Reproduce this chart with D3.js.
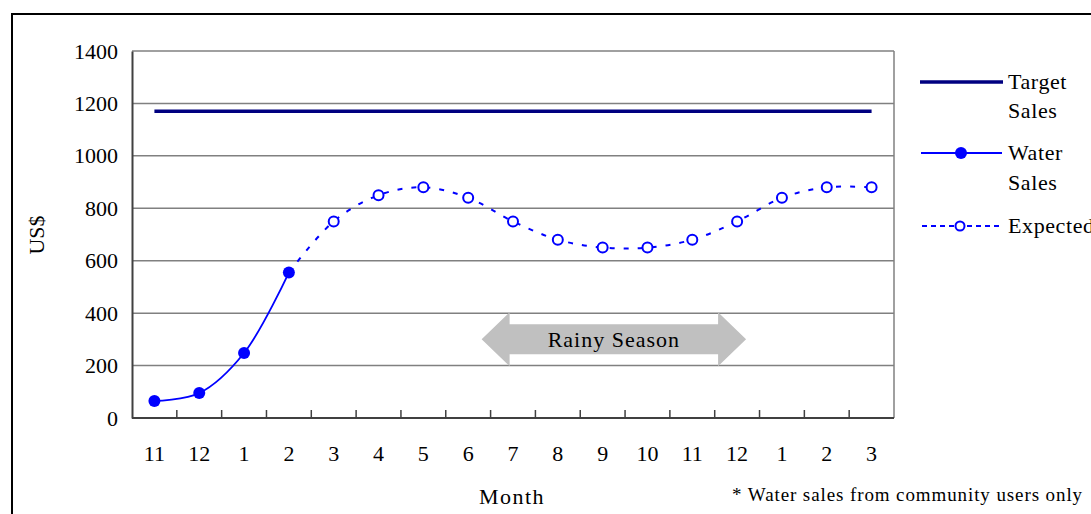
<!DOCTYPE html>
<html>
<head>
<meta charset="utf-8">
<script src="https://cdn.jsdelivr.net/npm/d3@7"></script>
<style>
  body { margin: 0; background: #fff; }
</style>
</head>
<body>
<div id="host"></div>
<script>
// Data
const months = ["11", "12", "1", "2", "3", "4", "5", "6", "7", "8", "9", "10", "11", "12", "1", "2", "3"];
const target = 1170;
const waterSales = [65, 95, 248, 555];
// expected starts from the last actual month (index 3)
const expectedStart = 3;
const expected = [555, 750, 850, 880, 840, 750, 680, 650, 650, 680, 750, 840, 880, 880];
const yTicks = [0, 200, 400, 600, 800, 1000, 1200, 1400];
const rainyFrom = 7.8, rainyTo = 13.7;   // arrow ends, in band units

// Layout constants
const width = 1091;
const height = 514;
const plot = {left: 132, top: 51, right: 894, bottom: 418};
const FONT = '"Liberation Serif"';

const svg = d3.select("#host").append("svg")
    .attr("width", width)
    .attr("height", height);

// Outer frame
svg.append("rect")
    .attr("x", 12).attr("y", 14)
    .attr("width", 1200).attr("height", 600)
    .attr("fill", "none").attr("stroke", "#000").attr("stroke-width", 2);

const x = d3.scaleBand()
    .domain(d3.range(months.length))
    .range([plot.left, plot.right]);
const cx = i => x(i) + x.bandwidth() / 2;

const y = d3.scaleLinear()
    .domain([0, 1400])
    .range([plot.bottom, plot.top]);

// Gridlines
svg.append("g")
    .selectAll("line")
    .data(yTicks.filter(d => d > 0))
    .join("line")
    .attr("x1", plot.left).attr("x2", plot.right)
    .attr("y1", d => y(d)).attr("y2", d => y(d))
    .attr("stroke", "#808080").attr("stroke-width", 1.5);

// Right border
svg.append("line")
    .attr("x1", plot.right).attr("x2", plot.right)
    .attr("y1", plot.top).attr("y2", plot.bottom)
    .attr("stroke", "#808080").attr("stroke-width", 1.5);

// Y axis
const yAxis = svg.append("g")
    .attr("transform", `translate(${plot.left},0)`)
    .call(d3.axisLeft(y).tickValues(yTicks).tickFormat(d3.format("d"))
        .tickSize(0).tickPadding(14));
yAxis.select(".domain").attr("stroke", "#404040").attr("stroke-width", 2);
yAxis.selectAll("text")
    .attr("font-size", 22).attr("fill", "#000")
    .style("font-family", FONT);

// X axis with ticks between categories
const xAxis = svg.append("g")
    .attr("transform", `translate(0,${plot.bottom})`);
xAxis.append("line")
    .attr("x1", plot.left).attr("x2", plot.right)
    .attr("stroke", "#404040").attr("stroke-width", 2);
xAxis.selectAll("line.tick")
    .data(d3.range(1, months.length))
    .join("line")
    .attr("class", "tick")
    .attr("x1", i => x(i)).attr("x2", i => x(i))
    .attr("y1", 0).attr("y2", -8)
    .attr("stroke", "#404040").attr("stroke-width", 1.5);
xAxis.selectAll("text")
    .data(months)
    .join("text")
    .attr("x", (d, i) => cx(i))
    .attr("y", 43)
    .attr("text-anchor", "middle")
    .attr("font-size", 22)
    .style("font-family", FONT)
    .text(d => d);

// Axis titles
svg.append("text")
    .attr("transform", "translate(44,235) rotate(-90)")
    .attr("text-anchor", "middle")
    .attr("font-size", 22)
    .style("font-family", FONT)
    .text("US$");
svg.append("text")
    .attr("x", 512).attr("y", 504)
    .attr("text-anchor", "middle")
    .attr("font-size", 22)
    .attr("letter-spacing", 1.5)
    .style("font-family", FONT)
    .text("Month");
svg.append("text")
    .attr("x", 1083).attr("y", 501)
    .attr("text-anchor", "end")
    .attr("font-size", 19)
    .attr("letter-spacing", 0.9)
    .style("font-family", FONT)
    .text("* Water sales from community users only");

// Rainy season arrow
const ax0 = x(0) + rainyFrom * x.bandwidth();
const ax1 = x(0) + rainyTo * x.bandwidth();
const ay = y(300);
const head = 28, bodyH = 15, headH = 27;
svg.append("path")
    .attr("d", `M${ax0},${ay} L${ax0 + head},${ay - headH} L${ax0 + head},${ay - bodyH}
      L${ax1 - head},${ay - bodyH} L${ax1 - head},${ay - headH} L${ax1},${ay}
      L${ax1 - head},${ay + headH} L${ax1 - head},${ay + bodyH} L${ax0 + head},${ay + bodyH}
      L${ax0 + head},${ay + headH} Z`)
    .attr("fill", "#c0c0c0");
svg.append("text")
    .attr("x", (ax0 + ax1) / 2).attr("y", ay + 8)
    .attr("text-anchor", "middle")
    .attr("font-size", 22)
    .attr("letter-spacing", 1)
    .style("font-family", FONT)
    .text("Rainy Season");

// Target line
svg.append("line")
    .attr("x1", cx(0)).attr("x2", cx(months.length - 1))
    .attr("y1", y(target)).attr("y2", y(target))
    .attr("stroke", "#000080").attr("stroke-width", 3.5);

const line = d3.line()
    .x(d => cx(d.i))
    .y(d => y(d.v))
    .curve(d3.curveCatmullRom.alpha(0.5));

// Expected (dashed)
const expData = expected.map((v, k) => ({i: expectedStart + k, v}));
svg.append("path")
    .datum(expData)
    .attr("d", line)
    .attr("fill", "none")
    .attr("stroke", "#0000ff")
    .attr("stroke-width", 2)
    .attr("stroke-dasharray", "5,9");
svg.append("g")
    .selectAll("circle")
    .data(expData.slice(1))
    .join("circle")
    .attr("cx", d => cx(d.i)).attr("cy", d => y(d.v))
    .attr("r", 5)
    .attr("fill", "#fff")
    .attr("stroke", "#0000ff").attr("stroke-width", 2);

// Water sales
const waterData = waterSales.map((v, i) => ({i, v}));
svg.append("path")
    .datum(waterData)
    .attr("d", line)
    .attr("fill", "none")
    .attr("stroke", "#0000ff")
    .attr("stroke-width", 1.8);
svg.append("g")
    .selectAll("circle")
    .data(waterData)
    .join("circle")
    .attr("cx", d => cx(d.i)).attr("cy", d => y(d.v))
    .attr("r", 6)
    .attr("fill", "#0000ff");

// Legend
const legend = svg.append("g");
legend.append("line")
    .attr("x1", 920).attr("x2", 1003).attr("y1", 82).attr("y2", 82)
    .attr("stroke", "#000080").attr("stroke-width", 3.5);
legend.append("line")
    .attr("x1", 921).attr("x2", 1002).attr("y1", 153).attr("y2", 153)
    .attr("stroke", "#0000ff").attr("stroke-width", 1.8);
legend.append("circle")
    .attr("cx", 961).attr("cy", 153).attr("r", 6).attr("fill", "#0000ff");
legend.append("line")
    .attr("x1", 922).attr("x2", 1000).attr("y1", 226).attr("y2", 226)
    .attr("stroke", "#0000ff").attr("stroke-width", 2)
    .attr("stroke-dasharray", "5,4");
legend.append("circle")
    .attr("cx", 960).attr("cy", 226).attr("r", 4.5)
    .attr("fill", "#fff").attr("stroke", "#0000ff").attr("stroke-width", 2);

const legendText = [
    {t: "Target", y: 89}, {t: "Sales", y: 118},
    {t: "Water", y: 160}, {t: "Sales", y: 190},
    {t: "Expected", y: 233}
];
legend.selectAll("text")
    .data(legendText)
    .join("text")
    .attr("x", 1008).attr("y", d => d.y)
    .attr("font-size", 22)
    .attr("letter-spacing", 0.6)
    .style("font-family", FONT)
    .text(d => d.t);
</script>
</body>
</html>
